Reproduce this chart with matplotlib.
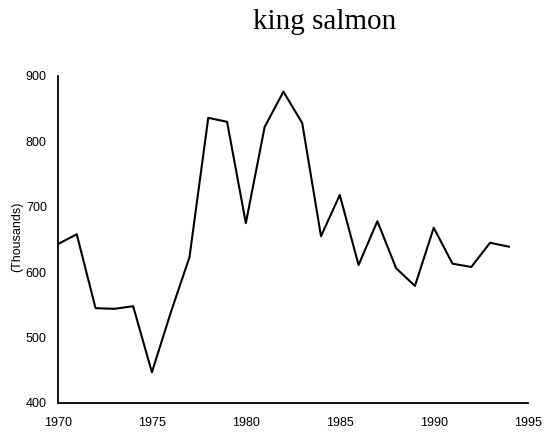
import matplotlib.pyplot as plt

# data
years = list(range(1970, 1995))
catch = [643, 658, 545, 544, 548, 447, 538, 623, 836, 830,
         675, 822, 876, 828, 655, 718, 611, 678, 606, 579,
         668, 613, 608, 645, 639]

x_ticks = [1970, 1975, 1980, 1985, 1990, 1995]
y_ticks = [400, 500, 600, 700, 800, 900]

fig = plt.figure(figsize=(5.5, 4.36), dpi=100)
fig.patch.set_facecolor('white')
ax = fig.add_axes([0.1054, 0.0757, 0.854, 0.75])

ax.plot(years, catch, color='black', linewidth=1.5)

ax.set_xlim(1970, 1995)
ax.set_ylim(400, 900)
ax.set_xticks(x_ticks)
ax.set_yticks(y_ticks)
ax.tick_params(length=0, labelsize=9)
ax.tick_params(axis='y', pad=8)
ax.tick_params(axis='x', pad=10)
for lbl in ax.get_xticklabels() + ax.get_yticklabels():
    lbl.set_family('Liberation Sans')

for side in ['top', 'right']:
    ax.spines[side].set_visible(False)
for side in ['left', 'bottom']:
    ax.spines[side].set_linewidth(1.3)

fig.text(17 / 550, 1 - 237 / 436, '(Thousands)', rotation=90,
         ha='center', va='center', fontsize=9, family='Liberation Sans')
fig.text(325 / 550, 1 - 22 / 436, 'king salmon', ha='center', va='center',
         fontsize=21, family='Liberation Serif')

fig.savefig('out.png', dpi=100)
